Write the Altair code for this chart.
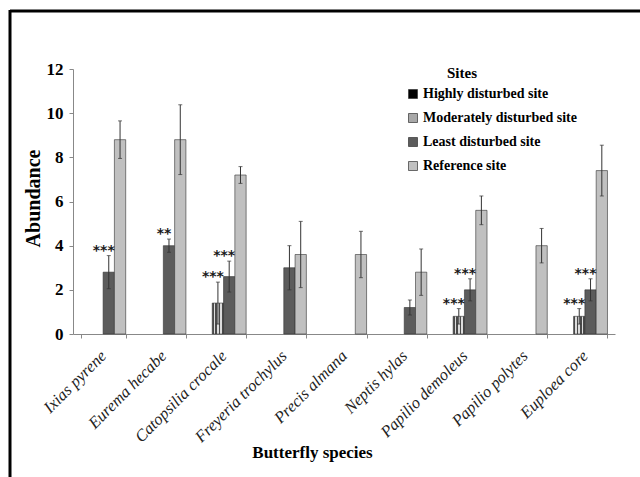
import altair as alt
import pandas as pd

# Butterfly abundance (mean ± error) per site category
species = [
    "Ixias pyrene", "Eurema hecabe", "Catopsilia crocale", "Freyeria trochylus",
    "Precis almana", "Neptis hylas", "Papilio demoleus", "Papilio polytes", "Euploea core",
]
sites = [
    "Highly disturbed site", "Moderately disturbed site",
    "Least disturbed site", "Reference site",
]

highly = [None, None, None, None, None, None, None, None, None]
highly_err = [None, None, None, None, None, None, None, None, None]
moderate = [None, None, 1.4, None, None, None, 0.8, None, 0.8]
moderate_err = [None, None, 0.95, None, None, None, 0.35, None, 0.35]
least = [2.8, 4.0, 2.6, 3.0, None, 1.2, 2.0, None, 2.0]
least_err = [0.75, 0.3, 0.7, 1.0, None, 0.34, 0.5, None, 0.5]
reference = [8.8, 8.8, 7.2, 3.6, 3.6, 2.8, 5.6, 4.0, 7.4]
reference_err = [0.85, 1.58, 0.38, 1.5, 1.05, 1.05, 0.65, 0.78, 1.15]

# significance markers
highly_sig = ["", "", "", "", "", "", "", "", ""]
moderate_sig = ["", "", "***", "", "", "", "***", "", "***"]
least_sig = ["***", "**", "***", "", "", "", "***", "", "***"]
reference_sig = ["", "", "", "", "", "", "", "", ""]

series = [
    (sites[0], highly, highly_err, highly_sig),
    (sites[1], moderate, moderate_err, moderate_sig),
    (sites[2], least, least_err, least_sig),
    (sites[3], reference, reference_err, reference_sig),
]

rows = []
for site, vals, errs, sigs in series:
    for sp, v, e, s in zip(species, vals, errs, sigs):
        if v is None:
            continue
        rows.append({"species": sp, "site": site, "abundance": v,
                     "lo": v - e, "hi": v + e, "sig": s})
df = pd.DataFrame(rows)

SERIF = "Liberation Serif"
INK = "#333333"

# fine stripe fill standing in for the dotted pattern of the moderate site
stripes = []
n_stripes = 7
for i in range(n_stripes):
    c = "#4a4a4a" if i % 2 == 0 else "#dcdcdc"
    stripes.append({"offset": i / n_stripes, "color": c})
    stripes.append({"offset": (i + 1) / n_stripes, "color": c})
pattern = {"gradient": "linear", "x1": 0, "y1": 0, "x2": 1, "y2": 0, "stops": stripes}

x_enc = alt.X(
    "species:N", sort=species,
    scale=alt.Scale(paddingInner=0.25, paddingOuter=0.125),
    axis=alt.Axis(
        title="Butterfly species", labelAngle=-45, labelAlign="right",
        labelBaseline="middle", labelFont=SERIF, labelFontStyle="italic",
        labelFontSize=16.5, labelColor="#222222", labelPadding=15, labelLimit=200,
        tickBand="extent", tickSize=4, tickColor="#888888", domainColor="#888888",
        titleFont=SERIF, titleFontSize=17, titleFontWeight="bold", titleColor="black",
        titleX=239, titleY=118, titleBaseline="middle", titleAnchor="start", titleAlign="center",
    ),
)
xo_enc = alt.XOffset("site:N", sort=sites,
                     scale=alt.Scale(domain=sites, paddingInner=0, paddingOuter=0))

y_axis = alt.Axis(
    title="Abundance", values=[0, 2, 4, 6, 8, 10, 12], grid=False,
    labelFont=SERIF, labelFontWeight="bold", labelFontSize=17, labelColor="black",
    labelPadding=6, tickSize=4, tickColor="#888888", domainColor="#888888",
    titleFont=SERIF, titleFontSize=20, titleFontWeight="bold", titleColor="black",
    titleX=-40, titleY=129, titleBaseline="middle", titleAlign="center", titleAngle=-90,
)
y_scale = alt.Scale(domain=[0, 12], nice=False)

base = alt.Chart(df)

bars = base.mark_bar(stroke=INK, strokeWidth=0.6).encode(
    x=x_enc, xOffset=xo_enc,
    y=alt.Y("abundance:Q", scale=y_scale, axis=y_axis),
    fill=alt.condition(
        "datum.site === 'Moderately disturbed site'",
        alt.value(pattern),
        alt.Fill(
            "site:N",
            scale=alt.Scale(domain=sites,
                            range=["#000000", "#a8a8a8", "#5c5c5c", "#c0c0c0"]),
            legend=alt.Legend(
                title=None, orient="none", legendX=333, legendY=18,
                symbolType="square", symbolSize=81, symbolStrokeColor=INK,
                symbolStrokeWidth=0.7, labelFont=SERIF, labelFontWeight="bold",
                labelFontSize=14, labelColor="black", labelOffset=3,
                rowPadding=10, labelLimit=220,
            ),
        ),
    ),
)

whiskers = base.mark_rule(color=INK, strokeWidth=1).encode(
    x=x_enc, xOffset=xo_enc, y=alt.Y("lo:Q", scale=y_scale), y2="hi:Q",
)

caps = base.transform_fold(["lo", "hi"], as_=["end", "cap"]).mark_tick(
    color=INK, thickness=1, size=4
).encode(x=x_enc, xOffset=xo_enc, y=alt.Y("cap:Q", scale=y_scale))

stars = base.transform_filter("datum.sig != ''").mark_text(
    font="DejaVu Sans", fontWeight="bold", fontSize=14, color="#1a1a1a",
    dx=-5, dy=-5, baseline="middle",
).encode(x=x_enc, xOffset=xo_enc, y=alt.Y("hi:Q", scale=y_scale), text="sig:N")

one = pd.DataFrame({"k": [0]})
legend_title = alt.Chart(one).mark_text(
    text="Sites", font=SERIF, fontWeight="bold", fontSize=15, color="black",
    baseline="middle", align="center",
).encode(x=alt.value(389), y=alt.value(4))

frame_top = alt.Chart(one).mark_rule(color="black", strokeWidth=3).encode(
    x=alt.value(-63), x2=alt.value(570), y=alt.value(-58))
frame_left = alt.Chart(one).mark_rule(color="black", strokeWidth=3).encode(
    x=alt.value(-63), y=alt.value(-59), y2=alt.value(410))

chart = alt.layer(
    bars, whiskers, caps, stars, legend_title, frame_top, frame_left
).properties(
    width=542, height=265,
    padding={"left": 73, "top": 69, "right": 25, "bottom": 143},
    autosize=alt.AutoSizeParams(type="none"),
    background="white",
).configure_view(stroke=None)

chart.save("out.html", embed_options={"renderer": "svg", "actions": False})
